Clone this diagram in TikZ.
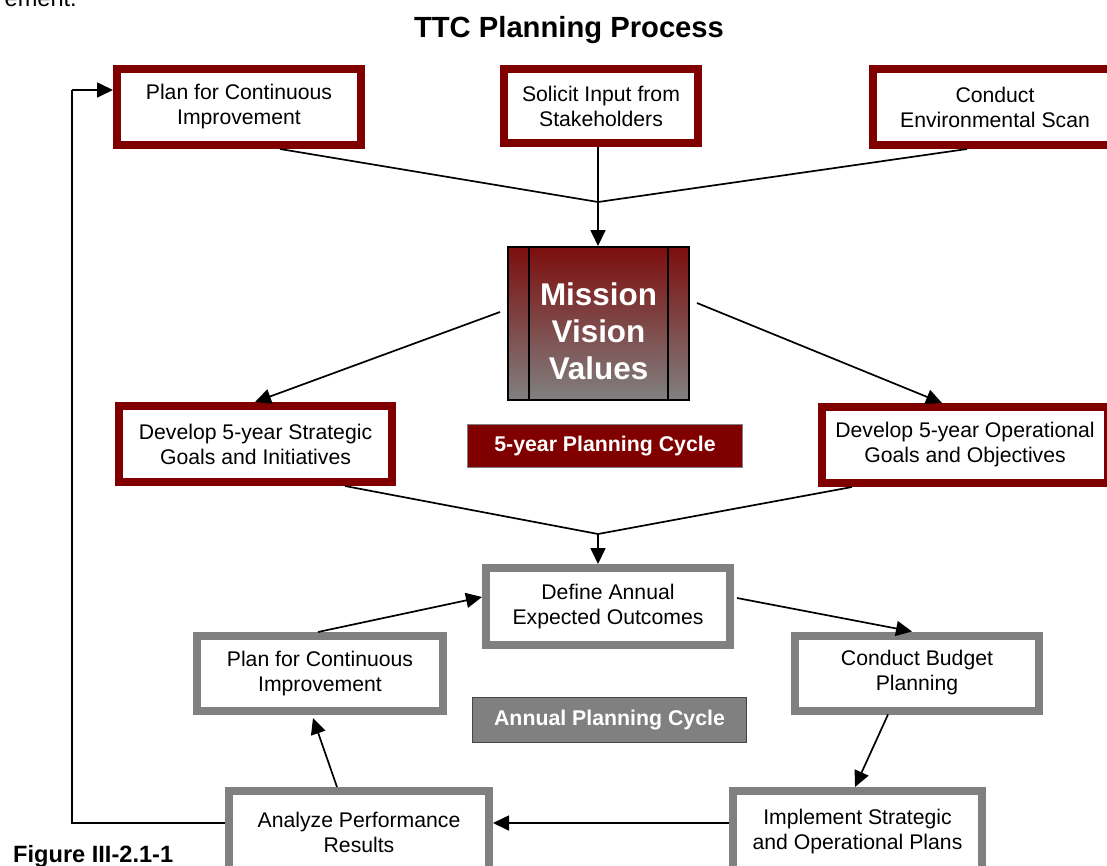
\documentclass[tikz,border=0pt]{standalone}
\usepackage{fontspec}
\setmainfont{Liberation Sans}
\usetikzlibrary{arrows.meta}
\definecolor{darkred}{RGB}{128,0,0}
\definecolor{boxgray}{RGB}{128,128,128}
\definecolor{tagedge}{RGB}{70,70,70}
\definecolor{mtop}{RGB}{125,14,14}
\begin{document}
\begin{tikzpicture}[x=1pt,y=-1pt,
    boxfont/.style={font=\fontsize{21.2}{25}\selectfont},
    tag/.style={align=center,inner sep=0pt,line width=1.2pt,text=white,
      font=\bfseries\fontsize{21.3}{25}\selectfont},
    link/.style={draw,line width=1.7pt},
    every edge/.style={draw,line width=1.7pt,-{Triangle[length=16pt,width=15pt]}}]

      \useasboundingbox (0,0) rectangle (1107,865);

      \node[anchor=base east,inner sep=0pt,font=\fontsize{23.6}{28}\selectfont] (cut) at (77,6) {ement.};
      \node[anchor=base,inner sep=0pt,font=\bfseries\fontsize{29.2}{34}\selectfont] (title) at (569,37) {TTC Planning Process};
      \node[anchor=base west,inner sep=0pt,font=\bfseries\fontsize{23.6}{28}\selectfont] (caption) at (13,862) {Figure III-2.1-1};

      \begin{scope}[every node/.style={draw=darkred,line width=8pt,fill=white,align=center,inner sep=0pt,boxfont}]
        \node[minimum width=244pt,minimum height=76pt] (planTop)    at (239,107)   {Plan for Continuous\\Improvement};
        \node[minimum width=194pt,minimum height=74pt] (solicit)    at (601,106)   {Solicit Input from\\Stakeholders};
        \node[minimum width=244pt,minimum height=76pt] (scan)       at (995,107)   {Conduct\\Environmental Scan};
        \node[minimum width=273pt,minimum height=76pt] (strategic)  at (255.5,444) {Develop 5-year Strategic\\Goals and Initiatives};
        \node[minimum width=286pt,minimum height=76pt] (operational) at (965,445)  {Develop 5-year Operational\\Goals and Objectives};
      \end{scope}

      \begin{scope}[every node/.style={draw=boxgray,line width=8pt,fill=white,align=center,inner sep=0pt,boxfont}]
        \node[minimum width=244pt,minimum height=77pt] (define)    at (608,606.5) {Define Annual\\Expected Outcomes};
        \node[minimum width=246pt,minimum height=75pt] (planLow)   at (320,673.5) {Plan for Continuous\\Improvement};
        \node[minimum width=244pt,minimum height=75pt] (budget)    at (917,673)   {Conduct Budget\\Planning};
        \node[minimum width=260pt,minimum height=82pt] (analyze)   at (359,832)   {Analyze Performance\\Results};
        \node[minimum width=249pt,minimum height=82pt] (implement) at (857.5,832) {Implement Strategic\\and Operational Plans};
      \end{scope}

      \node[draw=black,line width=2pt,top color=mtop,bottom color=boxgray,
            minimum width=181pt,minimum height=153pt] (mission) at (598.5,323.5) {};
      \draw[line width=1.6pt] ([xshift=22pt]mission.north west) -- ([xshift=22pt]mission.south west);
      \draw[line width=1.6pt] ([xshift=-22pt]mission.north east) -- ([xshift=-22pt]mission.south east);
      \node[inner sep=0pt,align=center,text=white,font=\bfseries\fontsize{31.4}{37}\selectfont]
        (missionText) at ([yshift=-8pt]mission.center) {Mission\\Vision\\Values};

      \node[tag,fill=darkred,draw=boxgray,minimum width=275pt,minimum height=43pt] (fiveYear) at (605,446) {5-year Planning Cycle};
      \node[tag,fill=boxgray,draw=tagedge,minimum width=274pt,minimum height=45pt] (annual) at (609.5,720) {Annual Planning Cycle};

      \coordinate (j1) at (598,202);
      \coordinate (j2) at (598,534);
      \coordinate (fb) at (72,90);

      \path[link] ([xshift=41pt]planTop.south) -- (j1) -- ([xshift=-28pt]scan.south);
      \path (solicit.south -| j1) edge (mission.north -| j1);
      \path[link] ([xshift=89.5pt]strategic.south) -- (j2) -- ([xshift=-113pt]operational.south);
      \path (j2) edge (define.north -| j2);

      \path ([xshift=-7pt,yshift=11.5pt]mission.west) edge ([xshift=-0.5pt]strategic.north);
      \path ([xshift=7pt,yshift=20.5pt]mission.east) edge ([xshift=-23pt]operational.north);

      \path ([xshift=-2pt]planLow.north) edge ([yshift=9.5pt]define.west);
      \path ([xshift=3pt,yshift=8.5pt]define.east) edge ([xshift=-5pt]budget.north);
      \path ([xshift=-29pt]budget.south) edge ([xshift=-2.5pt]implement.north);
      \path ([yshift=9pt]implement.west) edge ([yshift=9pt]analyze.west -| analyze.east);
      \path ([xshift=-22pt]analyze.north) edge ([xshift=-7pt,yshift=-3pt]planLow.south);
      \path[link] ([yshift=9pt]analyze.west) -| (fb);
      \path (fb) edge ([yshift=17pt]planTop.west);

    \end{tikzpicture}
\end{document}
